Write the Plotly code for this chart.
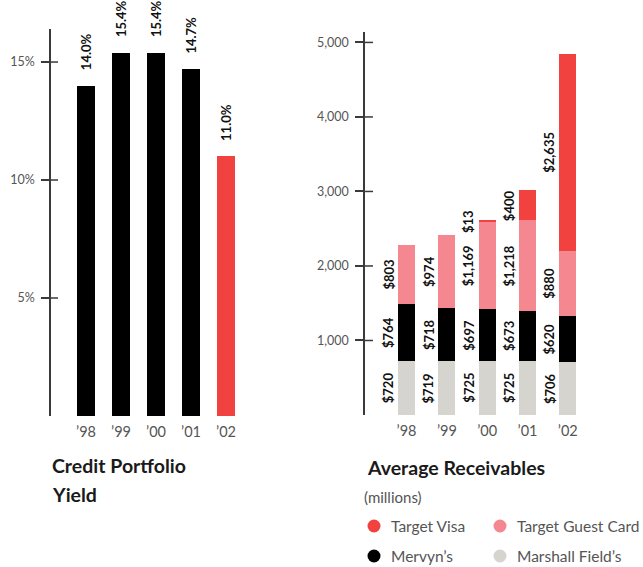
import plotly.graph_objects as go

W, H = 643, 567

# ---------------- data ----------------
years = ["\u201998", "\u201999", "\u201900", "\u201901", "\u201902"]
yield_pct = [14.0, 15.4, 15.4, 14.7, 11.0]
yield_labels = ["14.0%", "15.4%", "15.4%", "14.7%", "11.0%"]
yield_colors = ["#000000", "#000000", "#000000", "#000000", "#f2423f"]

marshall_fields = [720, 719, 725, 725, 706]
mervyns = [764, 718, 697, 673, 620]
guest_card = [803, 974, 1169, 1218, 880]
target_visa = [0, 0, 13, 400, 2635]

series_names = ["Marshall Field\u2019s", "Mervyn\u2019s", "Target Guest Card", "Target Visa"]
series_values = [marshall_fields, mervyns, guest_card, target_visa]
series_colors = ["#d5d4cf", "#000000", "#f4878f", "#f2423f"]

left_ticks = [5, 10, 15]
left_ticktext = ["5%", "10%", "15%"]
right_ticks = [1000, 2000, 3000, 4000, 5000]

# ---------------- layout geometry (pixels) ----------------
def px_x(p):
    return p / W

def px_y(p):
    return 1 - p / H

AX = "#3a3a3a"
TICKFONT = dict(family="Lato", size=12.5, color="#555555")
LABELFONT = dict(family="Lato", size=13, color="#111111")

fig = go.Figure()

# Left chart: Credit Portfolio Yield
fig.add_trace(go.Bar(
    x=years, y=yield_pct, marker=dict(color=yield_colors, line=dict(width=0)),
    width=0.49, xaxis="x", yaxis="y", showlegend=False, hoverinfo="x+y",
))
for yr, v, lab in zip(years, yield_pct, yield_labels):
    fig.add_annotation(
        x=yr, y=v, xref="x", yref="y", text="<b>" + lab + "</b>", showarrow=False,
        textangle=-90, xanchor="center", yanchor="bottom", yshift=13,
        font=dict(family="Lato", size=13, color="#111111"),
    )

# Right chart: Average Receivables (stacked)
for name, vals, col in zip(series_names, series_values, series_colors):
    fig.add_trace(go.Bar(
        x=years, y=vals, name=name, marker=dict(color=col, line=dict(width=0)),
        width=0.42, xaxis="x2", yaxis="y2", showlegend=False,
    ))

base = [0] * len(years)
for vals in series_values:
    for i, (yr, v) in enumerate(zip(years, vals)):
        if v > 0:
            fig.add_annotation(
                x=yr, y=base[i] + v / 2, xref="x2", yref="y2",
                text="<b>$" + f"{v:,}" + "</b>", showarrow=False, textangle=-90,
                xanchor="right", yanchor="middle", xshift=-8.5, font=LABELFONT,
            )
        base[i] += v

L_DOM_X = [px_x(51), px_x(247)]
L_DOM_Y = [px_y(416), px_y(29)]
R_DOM_X = [px_x(365), px_x(592)]
R_DOM_Y = [px_y(415), px_y(32)]

common_x = dict(type="category", showline=False, showgrid=False, zeroline=False,
                ticks="", tickfont=dict(family="Lato", size=14.5, color="#555555"),
                ticklabelstandoff=5, fixedrange=True)
common_y = dict(showline=True, linecolor=AX, linewidth=1.5, showgrid=False, zeroline=False,
                ticks="outside", ticklen=8, tickwidth=1.5, tickcolor=AX,
                tickfont=TICKFONT, ticklabelstandoff=4, fixedrange=True)

fig.update_layout(
    width=W, height=H, margin=dict(l=0, r=0, t=0, b=0),
    paper_bgcolor="white", plot_bgcolor="white",
    barmode="stack", bargap=0.5,
    xaxis=dict(domain=L_DOM_X, range=[-1, 4.6], anchor="y", **common_x),
    yaxis=dict(domain=L_DOM_Y, range=[0, 16.4], anchor="x", tickvals=left_ticks,
               ticktext=left_ticktext, **common_y),
    xaxis2=dict(domain=R_DOM_X, range=[-1.03, 4.6], anchor="y2", **common_x),
    yaxis2=dict(domain=R_DOM_Y, range=[0, 5140], anchor="x2", tickvals=right_ticks,
                tickformat=",", **common_y),
    showlegend=False,
)

# inner half of crossing tick marks
for tv in left_ticks:
    fig.add_shape(type="line", xref="x domain", yref="y", x0=0, x1=7 / 196, y0=tv, y1=tv,
                  line=dict(color=AX, width=1.5))
for tv in right_ticks:
    fig.add_shape(type="line", xref="x2 domain", yref="y2", x0=0, x1=8 / 227, y0=tv, y1=tv,
                  line=dict(color=AX, width=1.5))

TITLEFONT = dict(family="Lato", size=19.5, color="#1a1a1a")
fig.add_annotation(x=px_x(50), y=px_y(465), xref="paper", yref="paper", showarrow=False,
                   text="<b>Credit Portfolio</b>", xanchor="left", yanchor="middle", font=TITLEFONT)
fig.add_annotation(x=px_x(50), y=px_y(494), xref="paper", yref="paper", showarrow=False,
                   text="<b>Yield</b>", xanchor="left", yanchor="middle", font=TITLEFONT)
fig.add_annotation(x=px_x(365), y=px_y(467), xref="paper", yref="paper", showarrow=False,
                   text="<b>Average Receivables</b>", xanchor="left", yanchor="middle", font=TITLEFONT)
fig.add_annotation(x=px_x(362), y=px_y(497), xref="paper", yref="paper", showarrow=False,
                   text="(millions)", xanchor="left", yanchor="middle",
                   font=dict(family="Lato", size=15, color="#555555"))

# legend (manual, 2 x 2)
legend_order = ["Target Visa", "Target Guest Card", "Mervyn\u2019s", "Marshall Field\u2019s"]
legend_pos = [(374, 526), (500, 526), (374, 556), (500, 556)]
color_of = dict(zip(series_names, series_colors))
for name, (cx, cy) in zip(legend_order, legend_pos):
    r = 6.5
    fig.add_shape(type="circle", xref="paper", yref="paper",
                  x0=px_x(cx - r), x1=px_x(cx + r), y0=px_y(cy + r), y1=px_y(cy - r),
                  fillcolor=color_of[name], line=dict(width=0))
    fig.add_annotation(x=px_x(cx + 15), y=px_y(cy), xref="paper", yref="paper", showarrow=False,
                       text=name, xanchor="left", yanchor="middle",
                       font=dict(family="Lato", size=15.5, color="#555555"))

fig.write_html("out.html")
